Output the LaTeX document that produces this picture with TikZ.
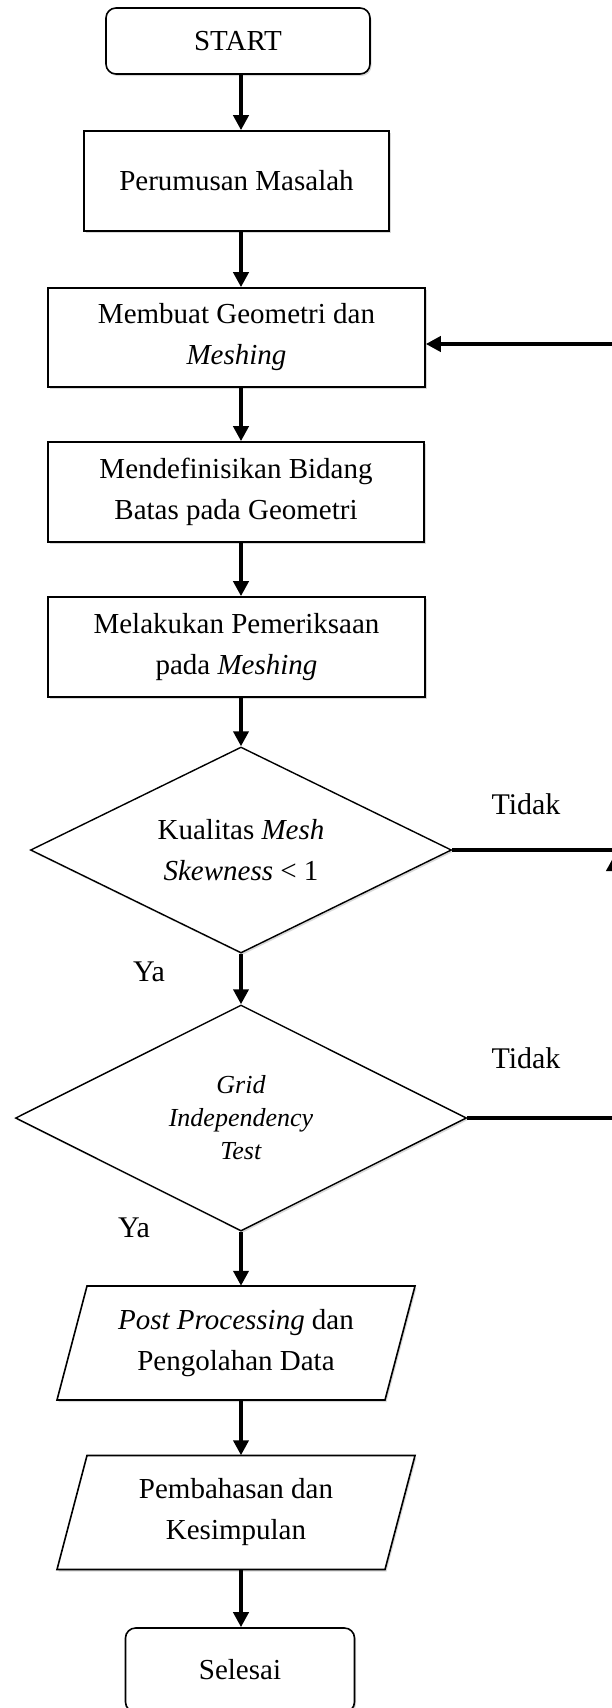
\documentclass[tikz,border=0pt]{standalone}
\usepackage{fontspec}
\setmainfont{Liberation Serif}
\usetikzlibrary{arrows.meta,shapes.geometric,shadows,calc}
\begin{document}
\begin{tikzpicture}[x=1pt,y=-1pt,
  font=\fontsize{29}{41}\selectfont,
  shd/.style={drop shadow={shadow xshift=1.5pt,shadow yshift=-2pt,opacity=0.25,fill=black!60}},
  procbox/.style={draw,line width=1.6pt,fill=white,align=center,inner sep=0pt,shd},
  termbox/.style={procbox,rounded corners=10pt},
  decis/.style={diamond,aspect=2,draw,line width=1.4pt,fill=white,align=center,inner sep=0pt,shd},
  pshape/.style={draw,line width=1.6pt,fill=white,shd},
  conn/.style={line width=4pt,line join=miter},
  arr/.style={conn,-{Triangle[length=15pt,width=15pt]}},
  lbl/.style={font=\fontsize{30}{36}\selectfont}]
\useasboundingbox (0,0) rectangle (612,1708);

\coordinate (ax) at (241,0);
\coordinate (rtop) at (614,344);

\node[termbox,minimum width=264pt,minimum height=66pt] (start) at (238,41) {START};
\node[procbox,minimum width=305pt,minimum height=100pt] (rum) at (236.5,181) {Perumusan Masalah};
\node[procbox,minimum width=377pt,minimum height=99pt] (geo) at (236.5,337.5) {Membuat Geometri dan\\\textit{Meshing}};
\node[procbox,minimum width=376pt,minimum height=100pt] (bid) at (236,492) {Mendefinisikan Bidang\\Batas pada Geometri};
\node[procbox,minimum width=377pt,minimum height=100pt] (cek) at (236.5,647) {Melakukan Pemeriksaan\\pada \textit{Meshing}};
\node[decis,minimum width=421pt,minimum height=206pt] (q1) at (241,850) {Kualitas \textit{Mesh}\\\textit{Skewness} < 1};
\node[decis,minimum width=451pt,minimum height=226pt,font=\fontsize{26}{33}\selectfont] (q2) at (241,1118) {\textit{Grid}\\\textit{Independency}\\\textit{Test}};

\coordinate (pc) at (236,1343);
\draw[pshape] ($(pc)+(-179,57)$) -- ($(pc)+(-149,-57)$) -- ($(pc)+(179,-57)$) -- ($(pc)+(149,57)$) -- cycle;
\node[align=center,minimum width=300pt,minimum height=114pt,inner sep=0pt] (post) at (pc) {\textit{Post Processing} dan\\Pengolahan Data};

\coordinate (bc) at (236,1512.5);
\draw[pshape] ($(bc)+(-179,57)$) -- ($(bc)+(-149,-57)$) -- ($(bc)+(179,-57)$) -- ($(bc)+(149,57)$) -- cycle;
\node[align=center,minimum width=300pt,minimum height=114pt,inner sep=0pt] (bahas) at (bc) {Pembahasan dan\\Kesimpulan};

\node[termbox,minimum width=229pt,minimum height=84pt] (end) at (240,1670) {Selesai};

\draw[arr] (start.south -| ax) -- (rum.north -| ax);
\draw[arr] (rum.south -| ax) -- (geo.north -| ax);
\draw[arr] (geo.south -| ax) -- (bid.north -| ax);
\draw[arr] (bid.south -| ax) -- (cek.north -| ax);
\draw[arr] (cek.south -| ax) -- (q1.north);
\draw[arr] (q1.south) -- (q2.north);
\draw[arr] (q2.south) -- (post.north -| ax);
\draw[arr] (post.south -| ax) -- (bahas.north -| ax);
\draw[arr] (bahas.south -| ax) -- (end.north -| ax);

\draw[arr] (q1.east) -- (q1.east -| rtop) -- (rtop) -- (rtop -| geo.east);
\draw[arr] (q2.east) -- (q2.east -| rtop) -- ($(q1.east -| rtop)+(0,6)$);

\node[lbl] (t1) at (526,804) {Tidak};
\node[lbl] (t2) at (526,1058) {Tidak};
\node[lbl] (y1) at (149,972) {Ya};
\node[lbl] (y2) at (134,1228) {Ya};
\end{tikzpicture}
\end{document}
